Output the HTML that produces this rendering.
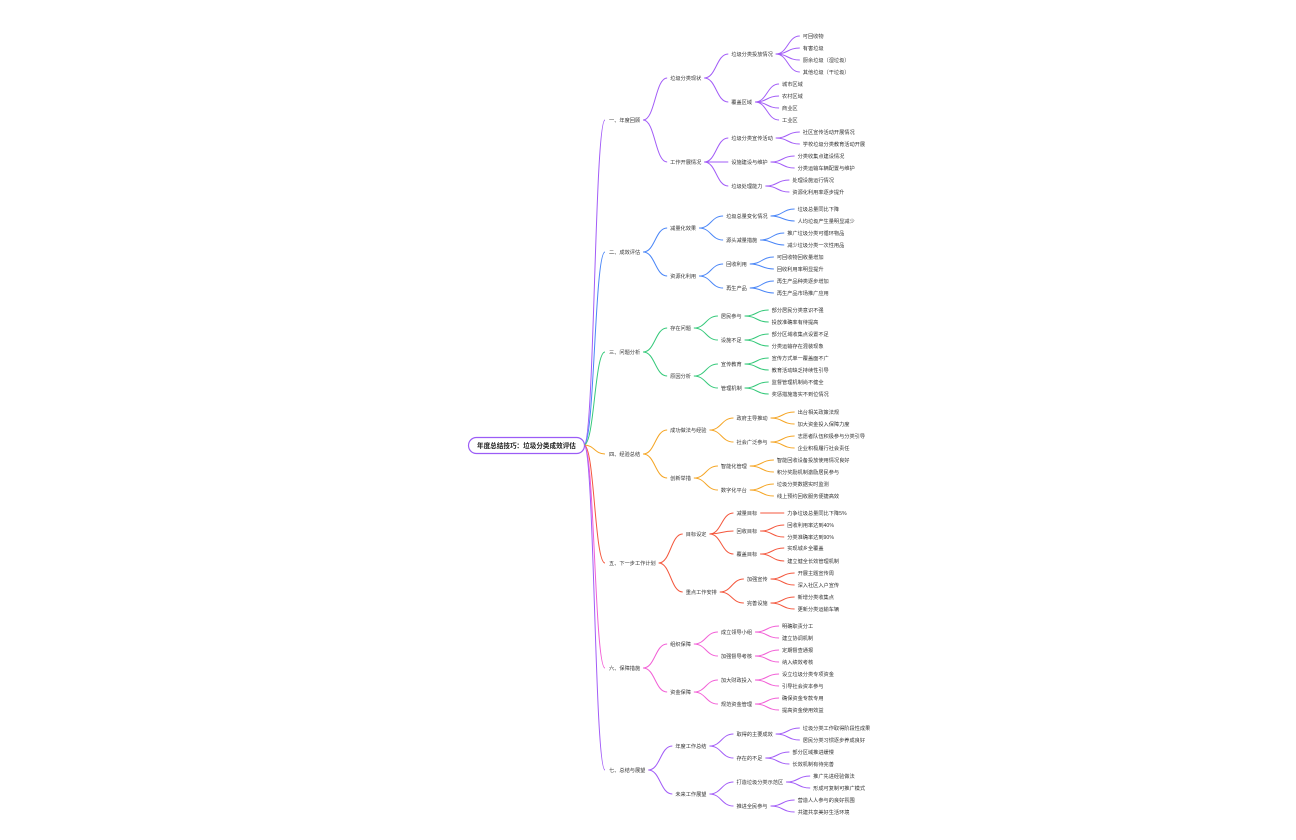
<!DOCTYPE html>
<html><head><meta charset="utf-8">
<style>
html,body{margin:0;padding:0;background:#fff;width:1296px;height:840px;overflow:hidden}
svg{display:block}
text{font-family:"Liberation Sans","Noto Sans CJK SC",sans-serif;fill:#333}
</style></head>
<body>
<svg id="s" width="1296" height="840" xmlns="http://www.w3.org/2000/svg">
<rect x="468.5" y="437.5" width="116" height="16" rx="8" fill="#fff" stroke="#9b5cf6" stroke-width="1.2"/>
<text x="477" y="448" font-size="6.6" font-weight="bold" style="fill:#222">年度总结技巧：垃圾分类成效评估</text>
<g id="g"></g>
</svg>
<script>
var T=[
["一、年度回顾",120,"#a25cf7",[
 ["垃圾分类现状",78,[["垃圾分类投放情况",54,[["可回收物",36],["有害垃圾",48],["厨余垃圾（湿垃圾）",60],["其他垃圾（干垃圾）",72]]],["覆盖区域",102,[["城市区域",84],["农村区域",96],["商业区",108],["工业区",120]]]]],
 ["工作开展情况",162,[["垃圾分类宣传活动",138,[["社区宣传活动开展情况",132],["学校垃圾分类教育活动开展",144]]],["设施建设与维护",162,[["分类收集点建设情况",156],["分类运输车辆配置与维护",168]]],["垃圾处理能力",186,[["处理设施运行情况",180],["资源化利用率逐步提升",192]]]]]]],
["二、成效评估",252,"#4a86f7",[
 ["减量化效果",228,[["垃圾总量变化情况",216,[["垃圾总量同比下降",209],["人均垃圾产生量明显减少",221]]],["源头减量措施",240,[["推广垃圾分类可循环物品",233],["减少垃圾分类一次性用品",245]]]]],
 ["资源化利用",276,[["回收利用",264,[["可回收物回收量增加",257],["回收利用率明显提升",269]]],["再生产品",288,[["再生产品种类逐步增加",281],["再生产品市场推广应用",293]]]]]]],
["三、问题分析",352,"#35c97a",[
 ["存在问题",328,[["居民参与",316,[["部分居民分类意识不强",310],["投放准确率有待提高",322]]],["设施不足",340,[["部分区域收集点设置不足",334],["分类运输存在混装现象",346]]]]],
 ["原因分析",376,[["宣传教育",364,[["宣传方式单一覆盖面不广",358],["教育活动缺乏持续性引导",370]]],["管理机制",388,[["监督管理机制尚不健全",382],["奖惩措施落实不到位情况",394]]]]]]],
["四、经验总结",454,"#f5a524",[
 ["成功做法与经验",430,[["政府主导推动",418,[["出台相关政策法规",412],["加大资金投入保障力度",424]]],["社会广泛参与",442,[["志愿者队伍积极参与分类引导",436],["企业积极履行社会责任",448]]]]],
 ["创新举措",478,[["智能化管理",466,[["智能回收设备投放使用情况良好",460],["积分奖励机制激励居民参与",472]]],["数字化平台",490,[["垃圾分类数据实时监测",484],["线上预约回收服务便捷高效",496]]]]]]],
["五、下一步工作计划",563,"#f4573d",[
 ["目标设定",534,[["减量目标",513,[["力争垃圾总量同比下降5%",513]]],["回收目标",531,[["回收利用率达到40%",525],["分类准确率达到90%",537]]],["覆盖目标",554,[["实现城乡全覆盖",548],["建立健全长效管理机制",561]]]]],
 ["重点工作安排",592,[["加强宣传",579,[["开展主题宣传周",573],["深入社区入户宣传",585]]],["完善设施",603,[["新增分类收集点",597],["更新分类运输车辆",609]]]]]]],
["六、保障措施",668,"#f25fd6",[
 ["组织保障",644,[["成立领导小组",632,[["明确职责分工",626],["建立协调机制",638]]],["加强督导考核",656,[["定期督查通报",650],["纳入绩效考核",662]]]]],
 ["资金保障",692,[["加大财政投入",680,[["设立垃圾分类专项资金",674],["引导社会资本参与",686]]],["规范资金管理",704,[["确保资金专款专用",698],["提高资金使用效益",710]]]]]]],
["七、总结与展望",770,"#a25cf7",[
 ["年度工作总结",746,[["取得的主要成效",734,[["垃圾分类工作取得阶段性成果",728],["居民分类习惯逐步养成良好",740]]],["存在的不足",758,[["部分区域推进缓慢",752],["长效机制有待完善",764]]]]],
 ["未来工作展望",794,[["打造垃圾分类示范区",782,[["推广先进经验做法",776],["形成可复制可推广模式",788]]],["推进全民参与",806,[["营造人人参与的良好氛围",800],["共建共享美好生活环境",812]]]]]]]
];
var NS="http://www.w3.org/2000/svg",g=document.getElementById("g");
function txt(x,y,s){var t=document.createElementNS(NS,"text");t.setAttribute("x",x);t.setAttribute("y",y+1.8);t.setAttribute("font-size","5.2");t.textContent=s;g.appendChild(t);return t.getComputedTextLength();}
function ln(x1,y1,x2,y2,c){var p=document.createElementNS(NS,"path");var m=(x1+x2)/2;p.setAttribute("d","M"+x1+","+y1+" C"+m+","+y1+" "+m+","+y2+" "+x2+","+y2);p.setAttribute("fill","none");p.setAttribute("stroke",c);p.setAttribute("stroke-width","1");g.appendChild(p);}
function node(n,x,y,c){var w=txt(x,y,n[0]);var kids=n[n.length-1];if(Array.isArray(kids)){var cx=x+w+30;kids.forEach(function(k){ln(x+w+3,y,cx-3,k[1],c);node(k,cx,k[1],c);});}}
T.forEach(function(b){ln(584,445,605,b[1],b[2]);var w=txt(609,b[1],b[0]);var cx=609+w+30;b[3].forEach(function(k){ln(609+w+3,b[1],cx-3,k[1],b[2]);node(k,cx,k[1],b[2]);});});
</script>
</body></html>
